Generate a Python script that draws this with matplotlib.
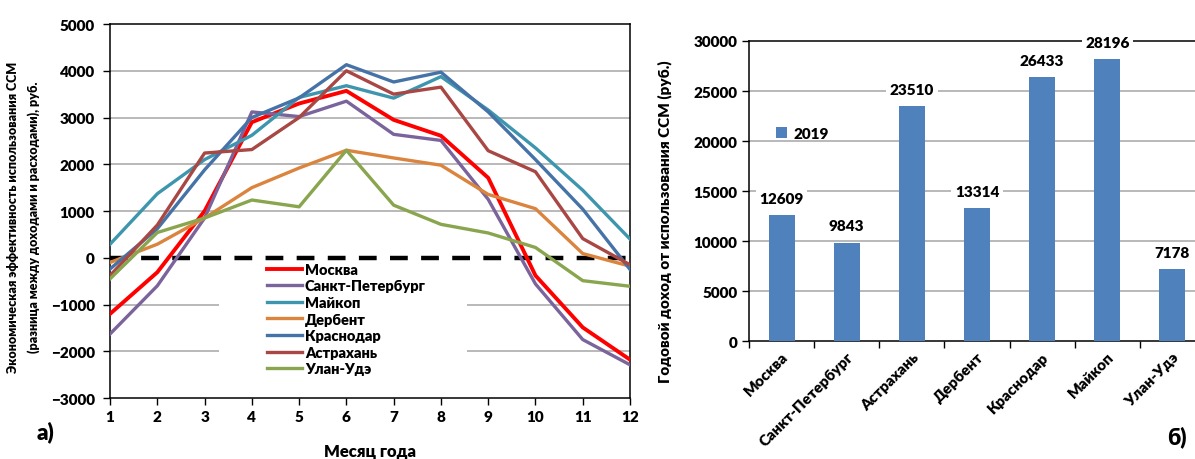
import numpy as np
import matplotlib
matplotlib.use("Agg")
import matplotlib.pyplot as plt
from matplotlib.patches import Rectangle

plt.rcParams['font.family'] = ['Lato', 'DejaVu Sans']
W = 'heavy'
plt.rcParams['font.weight'] = W

# left chart: monthly economic effect, rub
months = np.arange(1, 13)
moskva = [-1200, -310, 1000, 2900, 3300, 3570, 2950, 2610, 1710, -380, -1490, -2180]
spb = [-1630, -600, 850, 3120, 3020, 3350, 2640, 2510, 1250, -560, -1750, -2290]
maikop = [290, 1370, 2100, 2620, 3430, 3680, 3415, 3875, 3160, 2350, 1445, 400]
derbent = [-100, 290, 850, 1500, 1920, 2300, 2135, 1980, 1355, 1050, 90, -180]
krasnodar = [-240, 620, 1880, 3000, 3420, 4130, 3760, 3970, 3120, 2100, 1040, -250]
astrakhan = [-380, 700, 2240, 2315, 3000, 4000, 3500, 3650, 2290, 1840, 410, -150]
ulan_ude = [-450, 540, 850, 1235, 1090, 2300, 1125, 715, 530, 220, -490, -610]

series_names = ['Москва', 'Санкт-Петербург', 'Майкоп', 'Дербент', 'Краснодар', 'Астрахань', 'Улан-Удэ']
series_vals = [moskva, spb, maikop, derbent, krasnodar, astrakhan, ulan_ude]
series_colors = ['#FF0000', '#7B639B', '#3D96AE', '#DB843D', '#4572A7', '#A84744', '#89A54E']

# right chart: annual income, rub
cities = ['Москва', 'Санкт-Петербург', 'Астрахань', 'Дербент', 'Краснодар', 'Майкоп', 'Улан-Удэ']
income_2019 = [12609, 9843, 23510, 13314, 26433, 28196, 7178]

fig = plt.figure(figsize=(11.95, 4.6), dpi=100)

# ---- left panel ----
ax1 = fig.add_axes([0.0921, 0.1326, 0.4351, 0.8130])
ax1.set_xlim(1, 12)
ax1.set_ylim(-3000, 5000)
ax1.set_yticks(np.arange(-3000, 5001, 1000))
ax1.set_xticks(months)
for v in np.arange(-2000, 5000, 1000):
    if v != 0:
        ax1.axhline(v, color='#a6a6a6', lw=1.1, zorder=1)
ax1.axhline(0, color='black', lw=3.2, ls=(0, (4, 3)), zorder=2)
ax1.add_patch(Rectangle((0.21, 0.02), 0.477, 0.345, transform=ax1.transAxes,
                        facecolor='white', edgecolor='none', zorder=2.5))
for name, vals, c in zip(series_names, series_vals, series_colors):
    ax1.plot(months, vals, color=c, lw=2.4 if name != 'Москва' else 2.8, label=name, zorder=3)
leg = ax1.legend(loc='upper left', bbox_to_anchor=(0.302, 0.362), frameon=False,
                 borderaxespad=0, borderpad=0, handlelength=2.4, handletextpad=0.2,
                 labelspacing=0.25, prop={'size': 10.5, 'weight': W})
leg.set_zorder(4)
for sp in ax1.spines.values():
    sp.set_linewidth(1.1)
ax1.tick_params(axis='both', direction='out', length=5, width=1, labelsize=11)
ax1.tick_params(axis='y', pad=6)
for lab in ax1.get_xticklabels() + ax1.get_yticklabels():
    lab.set_fontweight(W)
ax1.set_xlabel('Месяц года', fontsize=12, fontweight=W)
ax1.xaxis.set_label_coords(0.5, -0.12)
ax1.set_ylabel('Экономическая эффективность использования ССМ\n(разница между доходами и расходами), руб.',
               fontsize=9, fontweight=W, linespacing=1.75)
ax1.yaxis.set_label_coords(-0.135, 0.487)
fig.text(0.031, 0.06, 'а)', fontsize=16, fontweight=W, ha='left', va='center')

# ---- right panel ----
ax2 = fig.add_axes([0.6268, 0.2565, 0.3816, 0.6522])
x = np.arange(len(cities))
ax2.set_xlim(-0.5, len(cities) - 0.5)
ax2.set_ylim(0, 30000)
ax2.set_yticks(np.arange(0, 30001, 5000))
for v in np.arange(5000, 30000, 5000):
    ax2.axhline(v, color='#a6a6a6', lw=1.1, zorder=1)
bars = ax2.bar(x, income_2019, width=0.4, color='#4F81BD', label='2019', zorder=3)
for xi, v in zip(x, income_2019):
    ax2.annotate(str(v), (xi, v), xytext=(0, 12), textcoords='offset points',
                 ha='center', va='center', fontsize=11, fontweight=W, zorder=4,
                 bbox=dict(facecolor='white', edgecolor='none', pad=2.5))
ax2.spines['right'].set_visible(False)
for sp in ax2.spines.values():
    sp.set_linewidth(1.1)
ax2.set_xticks(x)
ax2.set_xticklabels(cities, rotation=45, ha='right', rotation_mode='anchor',
                    fontsize=11, fontweight=W)
ax2.set_xticks(np.arange(-0.5, len(cities), 1), minor=True)
ax2.tick_params(axis='x', which='major', length=0, pad=6)
ax2.tick_params(axis='x', which='minor', length=5, width=1)
ax2.tick_params(axis='y', direction='out', length=5, width=1, labelsize=11)
for lab in ax2.get_yticklabels():
    lab.set_fontweight(W)
ax2.set_ylabel('Годовой доход от использования ССМ (руб.)', fontsize=11, fontweight=W)
ax2.yaxis.set_label_coords(-0.169, 0.40)
ax2.legend(loc='center left', bbox_to_anchor=(0.06, 0.693), frameon=False,
           handlelength=0.7, handleheight=0.7, handletextpad=0.4, borderpad=0,
           borderaxespad=0, prop={'size': 11, 'weight': W})
fig.text(0.977, 0.05, 'б)', fontsize=16, fontweight=W, ha='left', va='center')

fig.savefig('out.png', dpi=100)
